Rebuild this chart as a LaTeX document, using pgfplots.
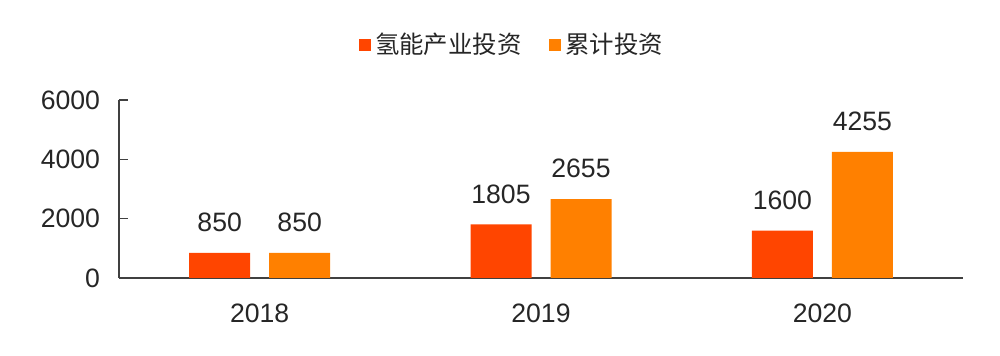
\documentclass[border=0pt]{standalone}
\usepackage{pgfplots}
\pgfplotsset{compat=1.18}
\usepackage{fontspec}
\setmainfont{Liberation Sans}
\newfontfamily\cjk{Noto Sans CJK SC}
\definecolor{cred}{HTML}{FF4500}
\definecolor{corange}{HTML}{FF8000}
\definecolor{axgray}{HTML}{404040}
\begin{document}
\begin{tikzpicture}
\useasboundingbox (-59.5pt,-39pt) rectangle (440.5pt,139pt);
\begin{axis}[
  at={(0,0)}, anchor=south west,
  scale only axis, width=422pt, height=89pt,
  xmin=-0.5, xmax=2.5, ymin=0, ymax=6000,
  axis lines*=left,
  axis line style={axgray, line width=0.7pt},
  ytick={0,2000,4000,6000},
  xtick={0,1,2}, xticklabels={2018,2019,2020},
  extra x ticks={0.5,1.5,2.5}, extra x tick labels={},
  extra x tick style={major tick length=3pt, tick style={axgray, line width=0.7pt}, tick align=inside},
  x tick style={draw=none},
  y tick style={axgray, line width=0.7pt},
  major tick length=4.5pt,
  tick align=inside,
  ticklabel style={font=\fontsize{13.3}{15}\selectfont, text=black!85},
  /pgf/number format/1000 sep={},
  /pgf/number format/assume math mode=true,
  yticklabel style={xshift=-6pt},
  xticklabel style={yshift=-5pt},
  ybar, bar width=30.5pt,
  nodes near coords,
  nodes near coords style={font=\fontsize{13.3}{15}\selectfont, text=black!85, yshift=7pt},
  every axis plot/.append style={draw=none},
  legend style={at={(197pt,116.5pt)}, anchor=center, draw=none, fill=none,
    legend columns=2, font=\cjk\fontsize{12.2}{14}\selectfont, text=black!85,
    /tikz/every even column/.append style={column sep=12pt}},
  legend image code/.code={\fill[#1] (0pt,-3pt) rectangle (6pt,3pt);},
  clip=false,
]
\addplot[fill=cred, bar shift=-20pt] coordinates {(0,850) (1,1805) (2,1600)};
\addplot[fill=corange, bar shift=20pt] coordinates {(0,850) (1,2655) (2,4255)};
\legend{氢能产业投资,累计投资}
\end{axis}
\end{tikzpicture}
\end{document}
